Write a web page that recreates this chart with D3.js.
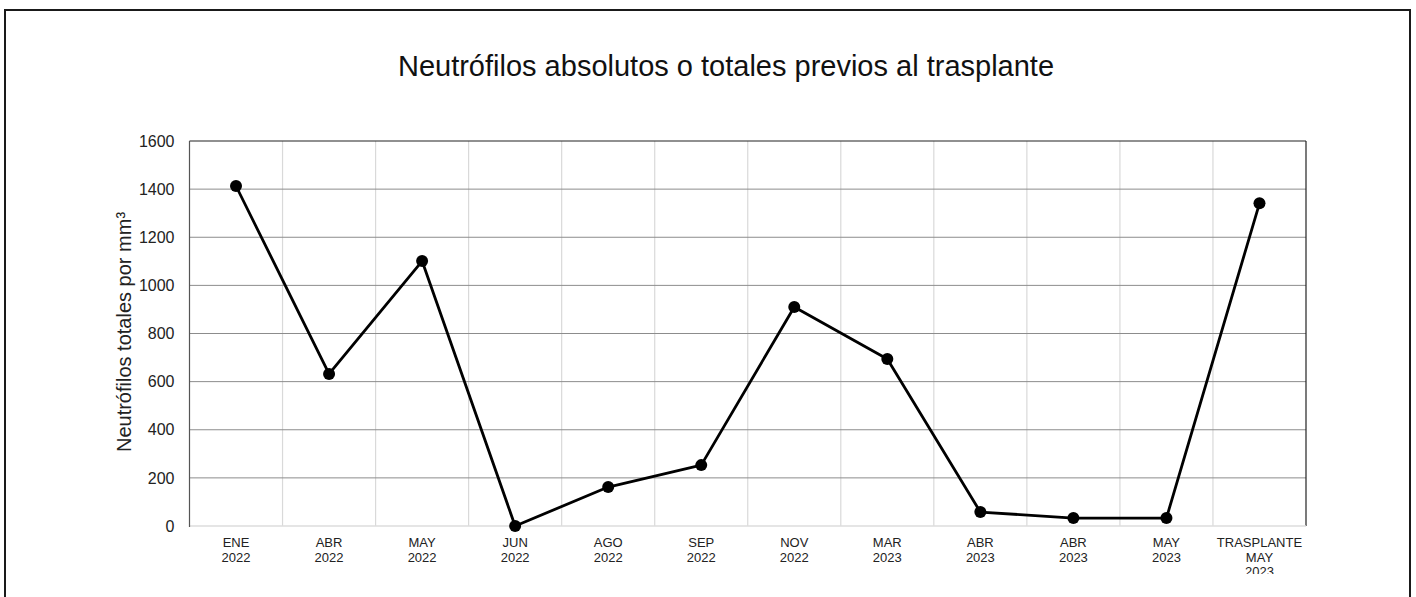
<!DOCTYPE html>
<html>
<head>
<meta charset="utf-8">
<script src="https://cdn.jsdelivr.net/npm/d3@7"></script>
<style>
  html, body { margin: 0; padding: 0; background: #fff; }
  svg { display: block; font-family: "Liberation Sans", Arial, sans-serif; }
</style>
</head>
<body>
<div id="chart"></div>
<script>
// Datos del gráfico
const months = ['ENE', 'ABR', 'MAY', 'JUN', 'AGO', 'SEP', 'NOV', 'MAR', 'ABR', 'ABR', 'MAY', 'TRASPLANTE'];
const years = ['2022', '2022', '2022', '2022', '2022', '2022', '2022', '2023', '2023', '2023', '2023', 'MAY'];
const extraLine = ['', '', '', '', '', '', '', '', '', '', '', '2023'];
const neutrophils = [1413, 632, 1101, 0, 162, 253, 910, 694, 58, 33, 33, 1341];
const yTicks = [0, 200, 400, 600, 800, 1000, 1200, 1400, 1600];

const width = 1416, height = 597;
const margin = { top: 141, right: 110, bottom: 71, left: 189.5 };

const svg = d3.select('#chart').append('svg')
    .attr('width', width)
    .attr('height', height);

// Marco exterior
svg.append('rect')
    .attr('x', 5).attr('y', 10)
    .attr('width', 1405).attr('height', 620)
    .attr('fill', 'none')
    .attr('stroke', '#1a1a1a')
    .attr('stroke-width', 2);

const x = d3.scaleBand()
    .domain(d3.range(months.length))
    .range([margin.left, width - margin.right])
    .padding(0);

const y = d3.scaleLinear()
    .domain([0, 1600])
    .range([height - margin.bottom, margin.top]);

// Rejilla vertical
svg.append('g')
    .selectAll('line')
    .data(d3.range(1, months.length))
    .join('line')
    .attr('x1', i => x(i)).attr('x2', i => x(i))
    .attr('y1', y(1600)).attr('y2', y(0))
    .attr('stroke', '#d9d9d9')
    .attr('stroke-width', 1.2);

// Rejilla horizontal
svg.append('g')
    .selectAll('line')
    .data(yTicks.filter(t => t > 0 && t < 1600))
    .join('line')
    .attr('x1', x.range()[0]).attr('x2', x.range()[1])
    .attr('y1', d => y(d)).attr('y2', d => y(d))
    .attr('stroke', '#8c8c8c')
    .attr('stroke-width', 1);

// Borde del área de trazado
const [x0, x1] = x.range();
svg.append('line').attr('x1', x0).attr('x2', x1).attr('y1', y(1600)).attr('y2', y(1600))
    .attr('stroke', '#222').attr('stroke-width', 1.2);
svg.append('line').attr('x1', x1).attr('x2', x1).attr('y1', y(1600)).attr('y2', y(0))
    .attr('stroke', '#222').attr('stroke-width', 1.2);
svg.append('line').attr('x1', x0).attr('x2', x1).attr('y1', y(0)).attr('y2', y(0))
    .attr('stroke', '#dcdcdc').attr('stroke-width', 1.5);
svg.append('line').attr('x1', x0).attr('x2', x0).attr('y1', y(1600)).attr('y2', y(0) + 1)
    .attr('stroke', '#555').attr('stroke-width', 1.2);

// Eje Y
const yAxis = svg.append('g')
    .attr('transform', `translate(${x0},0)`)
    .call(d3.axisLeft(y).tickValues(yTicks).tickFormat(d3.format('d')).tickSize(0).tickPadding(15));
yAxis.select('.domain').remove();
yAxis.selectAll('text')
    .attr('font-size', 16)
    .attr('fill', '#222')
    .attr('font-family', '"Liberation Sans", Arial, sans-serif');

// Etiquetas del eje X (recortadas abajo)
svg.append('clipPath').attr('id', 'xclip')
    .append('rect').attr('x', 0).attr('y', 0).attr('width', width).attr('height', 574);

const xLabels = svg.append('g').attr('clip-path', 'url(#xclip)')
    .selectAll('text')
    .data(months.map((m, i) => i))
    .join('text')
    .attr('x', i => x(i) + x.bandwidth() / 2)
    .attr('y', 547)
    .attr('text-anchor', 'middle')
    .attr('font-size', 13)
    .attr('fill', '#222');
xLabels.append('tspan').text(i => months[i]);
xLabels.append('tspan')
    .attr('x', i => x(i) + x.bandwidth() / 2)
    .attr('dy', 14.5)
    .text(i => years[i]);
xLabels.append('tspan')
    .attr('x', i => x(i) + x.bandwidth() / 2)
    .attr('dy', 14.5)
    .text(i => extraLine[i]);

// Línea y puntos
const line = d3.line()
    .x((d, i) => x(i) + x.bandwidth() / 2)
    .y(d => y(d));

svg.append('path')
    .datum(neutrophils)
    .attr('d', line)
    .attr('fill', 'none')
    .attr('stroke', '#000')
    .attr('stroke-width', 2.8)
    .attr('stroke-linejoin', 'round');

svg.append('g')
    .selectAll('circle')
    .data(neutrophils)
    .join('circle')
    .attr('cx', (d, i) => x(i) + x.bandwidth() / 2)
    .attr('cy', d => y(d))
    .attr('r', 6)
    .attr('fill', '#000');

// Título
svg.append('text')
    .attr('x', 726)
    .attr('y', 76)
    .attr('text-anchor', 'middle')
    .attr('font-size', 29)
    .attr('fill', '#111')
    .text('Neutrófilos absolutos o totales previos al trasplante');

// Título del eje Y
svg.append('text')
    .attr('transform', `translate(131,332) rotate(-90)`)
    .attr('text-anchor', 'middle')
    .attr('font-size', 20)
    .attr('fill', '#222')
    .text('Neutrófilos totales por mm³');
</script>
</body>
</html>
